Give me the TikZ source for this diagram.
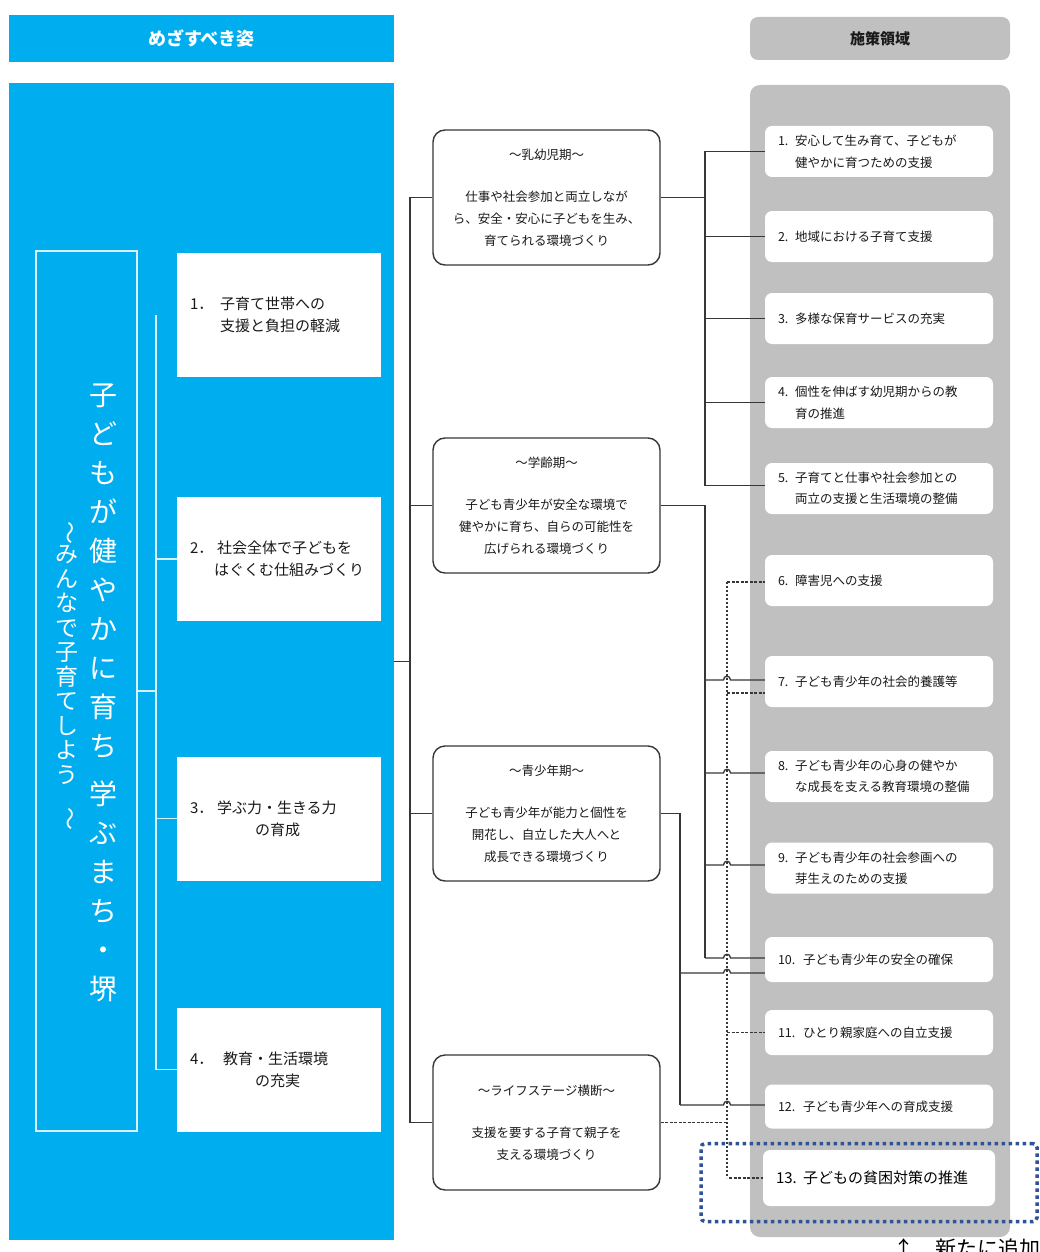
\documentclass[tikz,border=0pt]{standalone}
\usepackage{fontspec}
\setmainfont{Noto Sans CJK JP}
\usepackage{graphicx}
\usetikzlibrary{calc}
\definecolor{skyb}{RGB}{0,174,239}
\definecolor{panelg}{RGB}{192,192,192}
\definecolor{lineg}{RGB}{55,55,55}
\definecolor{txtc}{RGB}{25,25,25}
\definecolor{dotblue}{RGB}{47,84,150}
\definecolor{wlinec}{RGB}{215,240,252}
\begin{document}
\begin{tikzpicture}[x=1pt,y=-1pt,
  hdrblue/.style={fill=skyb, minimum width=385pt, minimum height=47pt, inner sep=0pt, text=white, font=\fontsize{18}{20}\selectfont\bfseries},
  objbox/.style={fill=white, text width=178pt, inner xsep=13pt, inner ysep=0pt, minimum height=124pt, align=left, text=txtc, font=\fontsize{15}{22}\selectfont},
  midbox/.style={draw=lineg, line width=1.4pt, fill=white, rounded corners=12pt, minimum width=227pt, minimum height=135pt, align=center, text=txtc, inner sep=0pt, font=\fontsize{12.5}{22}\selectfont},
  rbox/.style={fill=white, rounded corners=7pt, text width=202pt, inner xsep=13pt, inner ysep=0pt, minimum height=51pt, align=left, text=txtc, font=\fontsize{12.5}{21.5}\selectfont},
  cline/.style={draw=lineg, line width=1.3pt},
  dline/.style={draw=lineg, line width=1.2pt, dash pattern=on 3pt off 1.5pt},
  vdline/.style={draw=lineg, line width=1.4pt, dash pattern=on 2pt off 2pt},
  wline/.style={draw=wlinec, line width=1.5pt},
  vtext/.style={align=center, text=white, inner sep=0pt}
]
\useasboundingbox (0,0) rectangle (1040,1252);
\fill[white] (0,0) rectangle (1040,1252);

% ---- left blue column ----
\node[hdrblue] (hdrL) at (201.5,38.5) {めざすべき姿};
\node[fill=skyb, minimum width=385pt, minimum height=1157pt, inner sep=0pt] (panelL) at (201.5,661.5) {};
\node[draw=wlinec, line width=1.5pt, minimum width=101pt, minimum height=880pt, inner sep=0pt] (frame) at (86.5,691) {};
\node[vtext, font=\fontsize{28}{39}\selectfont] (vt1) at (103,692.5)
  {子\\ど\\も\\が\\健\\や\\か\\に\\育\\ち\\[9pt]学\\ぶ\\ま\\ち\\・\\堺};
\node[vtext, font=\fontsize{23}{24.5}\selectfont] (vt2) at (67,676)
  {\rotatebox{-90}{～}\\み\\ん\\な\\で\\子\\育\\て\\し\\よ\\う\\\rotatebox{-90}{～}};

\node[objbox] (O1) at (279,315) {\makebox[30pt][l]{1．}子育て世帯への\\\hspace*{30pt}支援と負担の軽減};
\node[objbox] (O2) at (279,559) {\makebox[27pt][l]{2．}社会全体で子どもを\\\hspace*{24pt}はぐくむ仕組みづくり};
\node[objbox] (O3) at (279,818.5) {\makebox[27pt][l]{3．}学ぶ力・生きる力\\\hspace*{65pt}の育成};
\node[objbox] (O4) at (279,1069.5) {\makebox[33pt][l]{4．}教育・生活環境\\\hspace*{65pt}の充実};

\coordinate (wx) at (156,0);
\draw[wline] (O1.west -| wx) -- (O4.west -| wx);
\draw[wline] (O2.west -| wx) -- (O2.west);
\draw[wline] (O3.west -| wx) -- (O3.west);
\draw[wline] (O4.west -| wx) -- (O4.west);
\draw[wline] (frame.east) -- (frame.east -| wx);

% ---- middle boxes ----
\node[midbox] (M1) at (546.5,197.5) {～乳幼児期～\\[20pt]仕事や社会参加と両立しなが\\ら、安全・安心に子どもを生み、\\育てられる環境づくり};
\node[midbox] (M2) at (546.5,505.5) {～学齢期～\\[20pt]子ども青少年が安全な環境で\\健やかに育ち、自らの可能性を\\広げられる環境づくり};
\node[midbox] (M3) at (546.5,813.5) {～青少年期～\\[20pt]子ども青少年が能力と個性を\\開花し、自立した大人へと\\成長できる環境づくり};
\node[midbox] (M4) at (546.5,1122.5) {～ライフステージ横断～\\[20pt]支援を要する子育て親子を\\支える環境づくり};

% ---- right grey column ----
\node[fill=panelg, rounded corners=8pt, minimum width=260pt, minimum height=43pt, inner sep=0pt, text=txtc, font=\fontsize{15}{18}\selectfont\bfseries] (hdrR) at (880,38.5) {施策領域};
\node[fill=panelg, rounded corners=10pt, minimum width=260pt, minimum height=1152pt, inner sep=0pt] (panelR) at (880,661) {};

\node[rbox] (R1) at (879,151.5) {\makebox[17pt][l]{1.}安心して生み育て、子どもが\\\hspace*{17pt}健やかに育つための支援};
\node[rbox] (R2) at (879,236.5) {\makebox[17pt][l]{2.}地域における子育て支援};
\node[rbox] (R3) at (879,318.5) {\makebox[17pt][l]{3.}多様な保育サービスの充実};
\node[rbox] (R4) at (879,402.5) {\makebox[17pt][l]{4.}個性を伸ばす幼児期からの教\\\hspace*{17pt}育の推進};
\node[rbox] (R5) at (879,488.5) {\makebox[17pt][l]{5.}子育てと仕事や社会参加との\\\hspace*{17pt}両立の支援と生活環境の整備};
\node[rbox] (R6) at (879,580.5) {\makebox[17pt][l]{6.}障害児への支援};
\node[rbox] (R7) at (879,681.5) {\makebox[17pt][l]{7.}子ども青少年の社会的養護等};
\node[rbox] (R8) at (879,776.5) {\makebox[17pt][l]{8.}子ども青少年の心身の健やか\\\hspace*{17pt}な成長を支える教育環境の整備};
\node[rbox] (R9) at (879,868) {\makebox[17pt][l]{9.}子ども青少年の社会参画への\\\hspace*{17pt}芽生えのための支援};
\node[rbox, minimum height=45pt] (R10) at (879,959.5) {\makebox[25pt][l]{10.}子ども青少年の安全の確保};
\node[rbox, minimum height=45pt] (R11) at (879,1032.5) {\makebox[25pt][l]{11.}ひとり親家庭への自立支援};
\node[rbox, minimum height=44pt] (R12) at (879,1106.5) {\makebox[25pt][l]{12.}子ども青少年への育成支援};
\node[rbox, text width=206pt, minimum height=56pt, text=black, font=\fontsize{15}{18}\selectfont] (R13) at (879,1178) {\makebox[27pt][l]{13.}子どもの貧困対策の推進};

\node[draw=dotblue, line width=3.5pt, dash pattern=on 3.5pt off 3.5pt, rounded corners=4pt, minimum width=336pt, minimum height=78pt, inner sep=0pt] (newarea) at (869,1182.5) {};
\node[anchor=west, inner sep=0pt, text=black, font=\fontsize{21}{24}\selectfont] (note) at (893,1248) {↑　新たに追加};

% ---- connectors ----
\coordinate (tx) at (410,0);
\coordinate (ax) at (705,0);
\coordinate (bx) at (680,0);
\coordinate (dx) at (727,0);
\coordinate (e5) at ($(R5.west)+(0,-3)$);
\coordinate (e6) at ($(R6.west)+(0,1.5)$);
\coordinate (e7a) at ($(R7.west)+(0,-1.5)$);
\coordinate (e7b) at ($(R7.west)+(0,11.5)$);
\coordinate (e8) at ($(R8.west)+(0,-3.5)$);
\coordinate (e9) at ($(R9.west)+(0,-3)$);
\coordinate (e10a) at ($(R10.west)+(0,-1.5)$);
\coordinate (e10b) at ($(R10.west)+(0,13.5)$);
\coordinate (e12) at ($(R12.west)+(0,-1.5)$);

% left trunk
\draw[cline] (panelL.east) -- (panelL.east -| tx);
\draw[cline] (M1.west) -- (M1.west -| tx) -- (M4.west -| tx) -- (M4.west);
\draw[cline] (M2.west) -- (M2.west -| tx);
\draw[cline] (M3.west) -- (M3.west -| tx);

% dashed group (life stage)
\draw[vdline] (e6 -| dx) -- (R13.west -| dx);
\draw[dline] (e6 -| dx) -- (e6);
\draw[dline] (e7b -| dx) -- (e7b);
\draw[dline] (R11.west -| dx) -- (R11.west);
\draw[dline] ($(R13.west -| dx)+(2,0)$) -- (R13.west);
\draw[dline] (M4.east) -- (M4.east -| dx);

% group 1
\draw[cline] (M1.east) -- (M1.east -| ax);
\draw[cline] (R1.west) -- (R1.west -| ax) -- (e5 -| ax) -- (e5);
\draw[cline] (R2.west -| ax) -- (R2.west);
\draw[cline] (R3.west -| ax) -- (R3.west);
\draw[cline] (R4.west -| ax) -- (R4.west);

% group 2
\draw[cline] (M2.east) -- (M2.east -| ax) -- (e10a -| ax);
\draw[cline] (e7a -| ax) -- ($(e7a -| dx)+(-3.5,0)$) .. controls +(0,-5) and +(0,-5) .. ($(e7a -| dx)+(3.5,0)$) -- (e7a);
\draw[cline] (e8 -| ax) -- ($(e8 -| dx)+(-3.5,0)$) .. controls +(0,-5) and +(0,-5) .. ($(e8 -| dx)+(3.5,0)$) -- (e8);
\draw[cline] (e9 -| ax) -- ($(e9 -| dx)+(-3.5,0)$) .. controls +(0,-5) and +(0,-5) .. ($(e9 -| dx)+(3.5,0)$) -- (e9);
\draw[cline] (e10a -| ax) -- ($(e10a -| dx)+(-3.5,0)$) .. controls +(0,-5) and +(0,-5) .. ($(e10a -| dx)+(3.5,0)$) -- (e10a);

% group 3
\draw[cline] (M3.east) -- (M3.east -| bx) -- (e12 -| bx);
\draw[cline] (e10b -| bx) -- ($(e10b -| dx)+(-3.5,0)$) .. controls +(0,-5) and +(0,-5) .. ($(e10b -| dx)+(3.5,0)$) -- (e10b);
\draw[cline] (e12 -| bx) -- ($(e12 -| dx)+(-3.5,0)$) .. controls +(0,-5) and +(0,-5) .. ($(e12 -| dx)+(3.5,0)$) -- (e12);
\end{tikzpicture}
\end{document}
